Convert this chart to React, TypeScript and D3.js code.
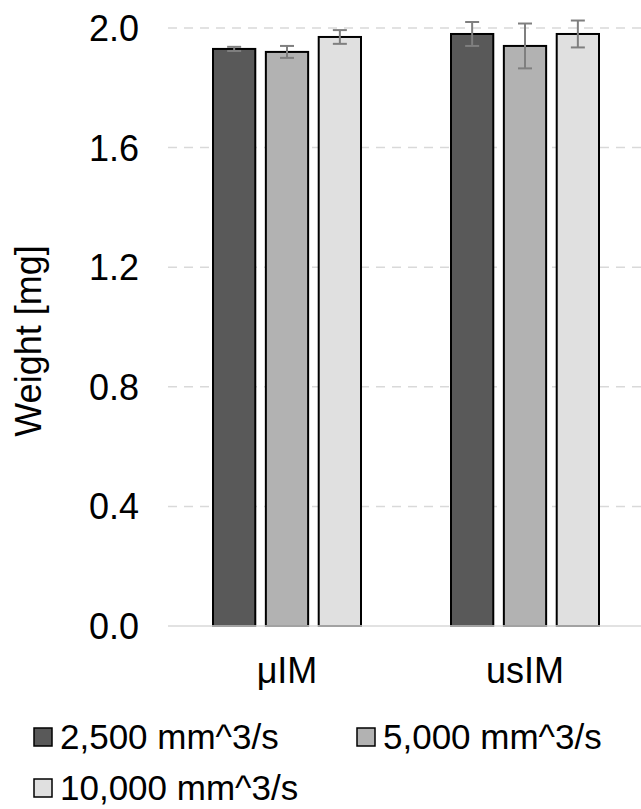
import React, { useEffect, useRef } from "react";
import * as d3 from "d3";

const categories = ["μIM", "usIM"];
const seriesNames = ["2,500 mm^3/s", "5,000 mm^3/s", "10,000 mm^3/s"];
const seriesColors = ["#595959", "#b2b2b2", "#e0e0e0"];
// values per series, one entry per category
const means = [
  [1.93, 1.98],
  [1.92, 1.94],
  [1.97, 1.98],
];
const errors = [
  [0.007, 0.04],
  [0.02, 0.075],
  [0.023, 0.045],
];
const yTicks = [0, 0.4, 0.8, 1.2, 1.6, 2.0];

const App = () => {
  const ref = useRef<SVGSVGElement>(null);
  const width = 641;
  const height = 809;
  const margin = { top: 28, right: -3, bottom: 183, left: 168 };

  useEffect(() => {
    const svg = d3.select(ref.current);
    svg.selectAll("*").remove();
    const font = "'Liberation Sans', Arial, sans-serif";
    const fs = 36;
    const innerW = width - margin.left - margin.right;
    const innerH = height - margin.top - margin.bottom;

    const g = svg
      .append("g")
      .attr("transform", `translate(${margin.left},${margin.top})`);

    const y = d3.scaleLinear().domain([0, 2]).range([innerH, 0]);
    const x0 = d3.scaleBand().domain(categories).range([0, innerW]);
    const x1 = d3
      .scaleBand()
      .domain(seriesNames)
      .range([0, 148])
      .paddingInner(0.2);

    // grid lines
    g.selectAll(".grid")
      .data(yTicks.filter((t) => t > 0))
      .enter()
      .append("line")
      .attr("x1", 0)
      .attr("x2", innerW)
      .attr("y1", (d) => y(d))
      .attr("y2", (d) => y(d))
      .attr("stroke", "#d9d9d9")
      .attr("stroke-width", 1.5)
      .attr("stroke-dasharray", "9,7");

    // y tick labels
    g.selectAll(".ylab")
      .data(yTicks)
      .enter()
      .append("text")
      .attr("x", -29)
      .attr("y", (d) => y(d))
      .attr("dy", "0.36em")
      .attr("text-anchor", "end")
      .attr("font-family", font)
      .attr("font-size", fs)
      .attr("fill", "#000")
      .text((d) => d.toFixed(1));

    // bars
    seriesNames.forEach((s, si) => {
      categories.forEach((c, ci) => {
        const bx = x0(c)! + x0.bandwidth() / 2 - 74 + x1(s)!;
        g.append("rect")
          .attr("x", bx)
          .attr("y", y(means[si][ci]))
          .attr("width", x1.bandwidth())
          .attr("height", innerH - y(means[si][ci]))
          .attr("fill", seriesColors[si])
          .attr("stroke", "#000")
          .attr("stroke-width", 2);

        const cx = bx + x1.bandwidth() / 2;
        const lo = y(means[si][ci] - errors[si][ci]);
        const hi = y(means[si][ci] + errors[si][ci]);
        const eg = g.append("g").attr("stroke", "#7f7f7f").attr("stroke-width", 2);
        eg.append("line").attr("x1", cx).attr("x2", cx).attr("y1", lo).attr("y2", hi);
        eg.append("line").attr("x1", cx - 7).attr("x2", cx + 7).attr("y1", lo).attr("y2", lo);
        eg.append("line").attr("x1", cx - 7).attr("x2", cx + 7).attr("y1", hi).attr("y2", hi);
      });
    });

    // baseline
    g.append("line")
      .attr("x1", 0)
      .attr("x2", innerW)
      .attr("y1", innerH)
      .attr("y2", innerH)
      .attr("stroke", "#d9d9d9")
      .attr("stroke-width", 1.5);

    // category labels
    g.selectAll(".xlab")
      .data(categories)
      .enter()
      .append("text")
      .attr("x", (d) => x0(d)! + x0.bandwidth() / 2)
      .attr("y", innerH + 57)
      .attr("text-anchor", "middle")
      .attr("font-family", font)
      .attr("font-size", fs)
      .attr("fill", "#000")
      .text((d) => d);

    // y axis title
    svg
      .append("text")
      .attr("transform", `translate(41,${margin.top + innerH / 2 + 14}) rotate(-90)`)
      .attr("text-anchor", "middle")
      .attr("font-family", font)
      .attr("font-size", fs)
      .attr("fill", "#000")
      .text("Weight [mg]");

    // legend
    const legendPos = [
      [34, 749],
      [357, 749],
      [34, 800],
    ];
    seriesNames.forEach((s, i) => {
      const [lx, ly] = legendPos[i];
      svg
        .append("rect")
        .attr("x", lx)
        .attr("y", ly - 21)
        .attr("width", 18)
        .attr("height", 18)
        .attr("fill", seriesColors[i])
        .attr("stroke", "#000")
        .attr("stroke-width", 1.5);
      svg
        .append("text")
        .attr("x", lx + 26)
        .attr("y", ly)
        .attr("font-family", font)
        .attr("font-size", 35)
        .attr("fill", "#000")
        .text(s);
    });
  }, []);

  return (
    <svg
      ref={ref}
      width={width}
      height={height}
      style={{ position: "absolute", left: 0, top: 0, background: "#fff" }}
    />
  );
};

export default App;
